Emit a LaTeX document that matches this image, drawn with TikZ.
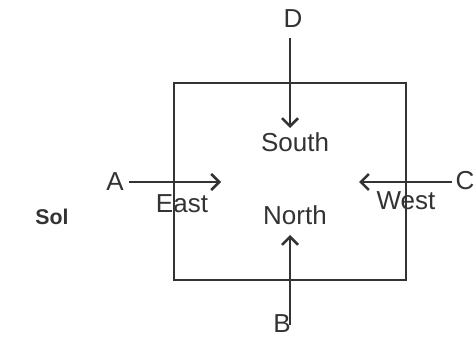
\documentclass[tikz,border=0pt]{standalone}
\usepackage{fontspec}
\setmainfont{Liberation Sans}
\usetikzlibrary{arrows.meta}

\definecolor{ink}{RGB}{51,51,51}
\tikzset{
  lbl/.style={inner sep=0.75pt, text=ink, font=\fontsize{19.5}{22}\selectfont},
  ray/.style={draw=ink, line width=1.9pt, -{Straight Barb[length=6pt,width=12pt,line width=1.9pt]}}
}

\begin{document}
\begin{tikzpicture}[x=0.75pt,y=0.75pt,yscale=-1,xscale=1]
\useasboundingbox (0,0) rectangle (475,338);

%Shape: Rectangle
\draw [draw=ink, line width=1.9pt] (174,83) rectangle (406,280);

% Text Nodes
\node (D) [lbl] at (293,19) {D};
\node (A) [lbl] at (115,182) {A};
\node (C) [lbl] at (465,181) {C};
\node (B) [lbl] at (282,324) {B};
\node (south) [lbl] at (295,142) {South};
\node (north) [lbl] at (295,215) {North};
\node (east) [lbl] at (182,204) {East};
\node (west) [lbl] at (406,201) {West};
\node (sol) [lbl, font=\fontsize{16}{18}\selectfont\bfseries] at (52,217) {Sol};

% arrow ends
\coordinate (dS) at (290,38);
\coordinate (dE) at (290,128);
\coordinate (bS) at (290,325);
\coordinate (bE) at (290,235);
\coordinate (aS) at (129,182);
\coordinate (aE) at (221,182);
\coordinate (cS) at (452,182);
\coordinate (cE) at (359,182);

%Straight Lines
\draw [ray] (dS) -- (dE);
\draw [ray] (bS) -- (bE);
\draw [ray] (aS) -- (aE);
\draw [ray] (cS) -- (cE);
\end{tikzpicture}
\end{document}
